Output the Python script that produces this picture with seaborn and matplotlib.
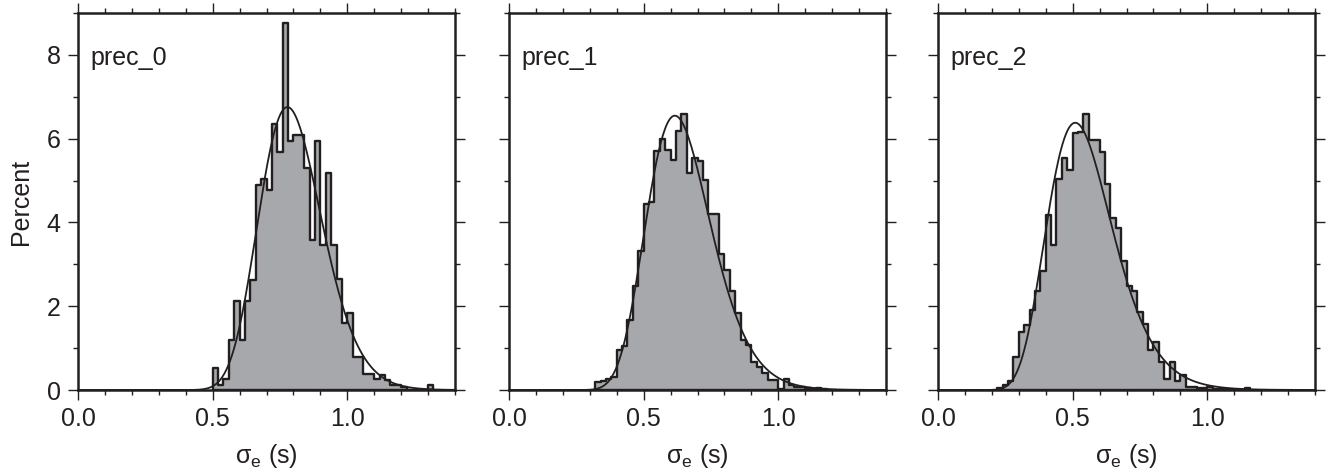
import numpy as np
import pandas as pd
import matplotlib
matplotlib.use("Agg")
import matplotlib.pyplot as plt
import seaborn as sns
from matplotlib.ticker import MultipleLocator, FormatStrFormatter

# ---------------- data (percent of samples per 0.02 s bin) ----------------
panel_labels = ["prec_0", "prec_1", "prec_2"]
bin_width = 0.02

start_0 = 0.50
pct_0 = [0.52, 0.12, 0.26, 1.19, 2.12, 1.19, 2.12, 2.63, 4.89, 5.03,
         4.77, 6.35, 5.69, 8.75, 5.95, 6.09, 6.09, 5.30, 3.59, 5.95,
         3.45, 5.17, 3.45, 2.64, 1.60, 1.84, 0.79, 0.79, 0.38, 0.38,
         0.26, 0.36, 0.24, 0.12, 0.12, 0.08, 0.00, 0.00, 0.00, 0.00,
         0.12]

start_1 = 0.32
pct_1 = [0.18, 0.22, 0.26, 0.32, 0.96, 1.04, 1.67, 2.48, 3.31, 4.43,
         4.49, 5.70, 6.00, 5.74, 5.49, 6.19, 6.59, 5.18, 5.55, 5.47,
         5.01, 4.19, 4.19, 3.25, 2.87, 2.37, 1.83, 1.19, 1.07, 0.67,
         0.54, 0.40, 0.24, 0.24, 0.02, 0.26, 0.13, 0.08, 0.06, 0.05,
         0.03, 0.05, 0.02]

start_2 = 0.22
pct_2 = [0.04, 0.12, 0.22, 0.79, 1.38, 1.54, 1.91, 2.36, 2.84, 4.17,
         3.47, 5.03, 5.55, 5.26, 6.14, 6.17, 6.59, 5.98, 5.98, 5.67,
         4.91, 4.11, 3.87, 3.07, 2.48, 2.37, 1.87, 1.57, 0.96, 1.14,
         0.66, 0.26, 0.66, 0.22, 0.36, 0.08, 0.06, 0.05, 0.05, 0.08,
         0.03, 0.02, 0.02, 0.00, 0.00, 0.00, 0.05]

starts = [start_0, start_1, start_2]
pcts = [pct_0, pct_1, pct_2]

x_tick_major = 0.5
x_tick_minor = 0.1
y_tick_major = 2
y_tick_minor = 1
x_max = 1.4
y_max = 9

# ---------------- style ----------------
sns.set_theme(style="ticks")
plt.rcParams["font.family"] = ["Liberation Sans", "DejaVu Sans"]
plt.rcParams["mathtext.fontset"] = "custom"
plt.rcParams["mathtext.rm"] = "Liberation Sans"
plt.rcParams["mathtext.it"] = "Liberation Sans:italic"
plt.rcParams["mathtext.sf"] = "Liberation Sans"

ink = "#231f20"
fill = "#a6a8ab"

W, H = 1330, 474
fig = plt.figure(figsize=(W / 100, H / 100), dpi=100)
lefts_px = [78, 509, 938]
ax_w, ax_h, bottom_px = 377, 377, 84

for i, (lab, start, pct) in enumerate(zip(panel_labels, starts, pcts)):
    ax = fig.add_axes([lefts_px[i] / W, bottom_px / H, ax_w / W, ax_h / H])
    n = len(pct)
    edges = start + bin_width * np.arange(n + 1)
    centers = start + bin_width * (np.arange(n) + 0.5)
    df = pd.DataFrame({"x": centers, "pct": pct})
    sns.histplot(data=df, x="x", weights="pct", bins=[float(e) for e in edges],
                 element="step", fill=True, facecolor=fill, edgecolor=ink,
                 linewidth=1.7, alpha=1, ax=ax)

    # log-normal fit to the histogram
    w = np.asarray(pct) / np.sum(pct)
    lx = np.log(centers)
    mu = np.sum(w * lx)
    s = np.sqrt(np.sum(w * (lx - mu) ** 2))
    xs = np.linspace(0.005, x_max, 600)
    ys = 100 * bin_width / (xs * s * np.sqrt(2 * np.pi)) * np.exp(-(np.log(xs) - mu) ** 2 / (2 * s ** 2))
    sns.lineplot(x=xs, y=ys, color=ink, linewidth=1.3, ax=ax)

    ax.set_xlim(0, x_max)
    ax.set_ylim(0, y_max)
    ax.xaxis.set_major_locator(MultipleLocator(x_tick_major))
    ax.xaxis.set_minor_locator(MultipleLocator(x_tick_minor))
    ax.yaxis.set_major_locator(MultipleLocator(y_tick_major))
    ax.yaxis.set_minor_locator(MultipleLocator(y_tick_minor))
    ax.xaxis.set_major_formatter(FormatStrFormatter("%.1f"))
    ax.tick_params(which="both", direction="out", top=True, right=True,
                   color=ink, width=1.0, labelsize=18, labelcolor=ink)
    ax.tick_params(which="major", length=7.5, pad=5)
    ax.tick_params(which="minor", length=3.8)
    for sp in ax.spines.values():
        sp.set_linewidth(1.8)
        sp.set_color(ink)
        sp.set_visible(True)

    ax.set_xlabel("σ$_{\\mathrm{e}}$ (s)", fontsize=18, color=ink, labelpad=8)
    if i == 0:
        ax.set_ylabel("Percent", fontsize=18, color=ink, labelpad=10)
    else:
        ax.set_ylabel("")
        ax.tick_params(labelleft=False)

    ax.text(0.033, 0.88, lab, transform=ax.transAxes, fontsize=18,
            va="center", ha="left", color=ink)

fig.savefig("out.png", dpi=100)
